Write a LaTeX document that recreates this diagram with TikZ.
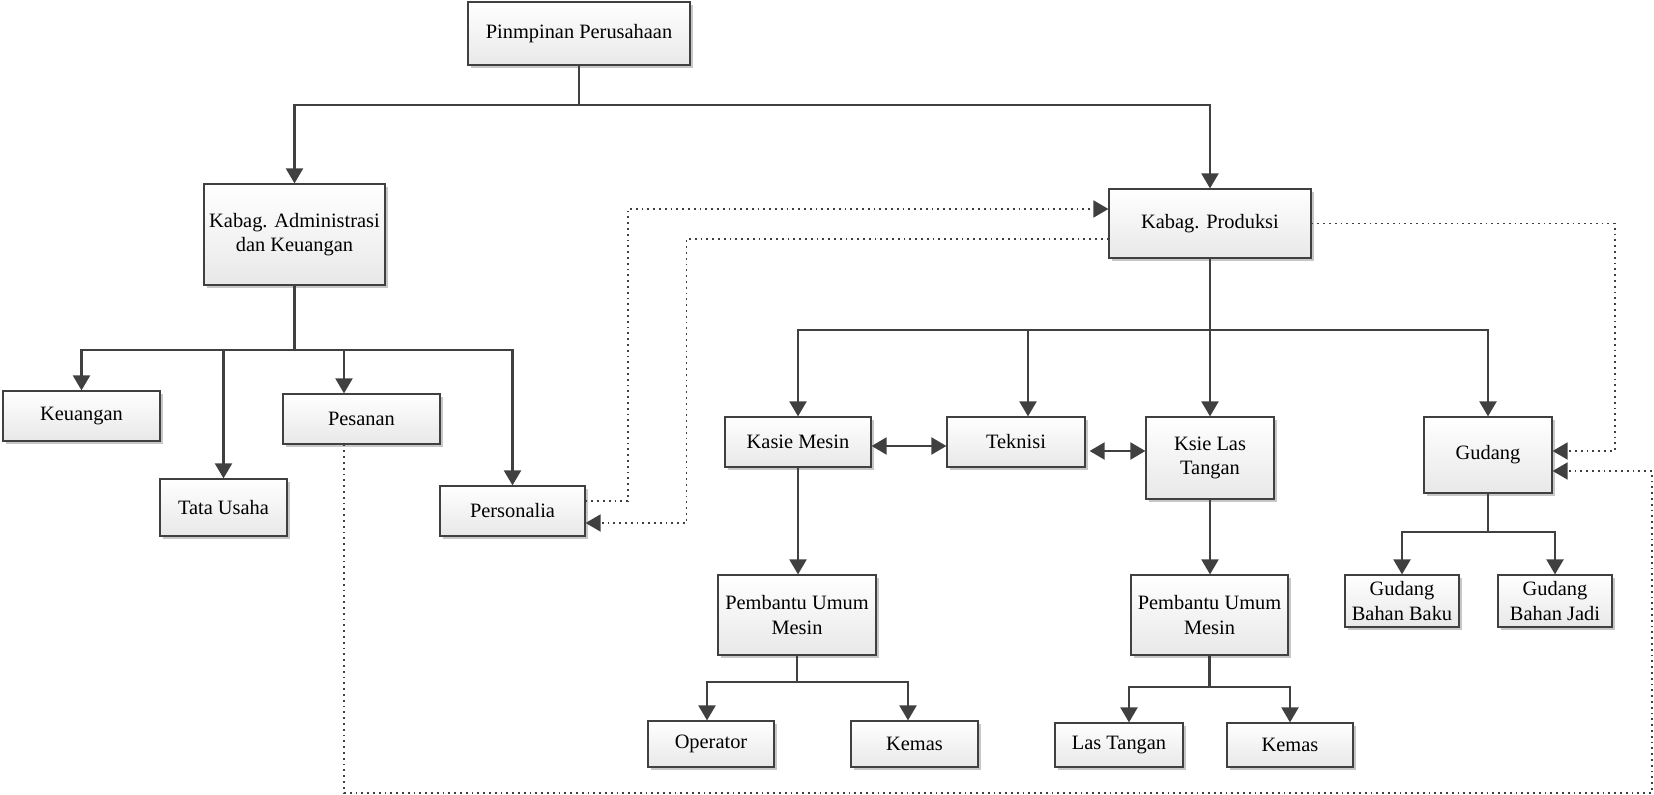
\documentclass[tikz,border=0pt]{standalone}
\usepackage{fontspec}
\setmainfont{Liberation Serif}
\usetikzlibrary{arrows.meta,shadows,calc}
\definecolor{ln}{HTML}{404040}
\tikzset{
  box/.style={draw=ln, line width=0.6pt, top color=white, bottom color=black!9,
    general shadow={fill=black!22, shadow xshift=1.5pt, shadow yshift=-1.5pt},
    font=\fontsize{10.2pt}{12.2pt}\selectfont, align=center, inner sep=1pt},
  arr/.style={draw=ln, line width=1.1pt, -{Triangle[length=7.5pt,width=8.5pt]}},
  darr/.style={draw=ln, line width=1.1pt, {Triangle[length=7.5pt,width=8.5pt]}-{Triangle[length=7.5pt,width=8.5pt]}},
  dotarr/.style={draw=ln, line width=0.9pt, dash pattern=on 0.9pt off 2pt, -{Triangle[length=7.5pt,width=8.5pt]}},
}
\newcommand\bx[7]{\node[box, minimum width=#4*0.5pt, minimum height=#5*0.5pt] (#1) at (#2,#3) {#6};}
\begin{document}
\begin{tikzpicture}[x=0.5pt,y=-0.5pt]
\useasboundingbox (0,0) rectangle (1654,795);
% nodes
\bx{pim}{579}{33.5}{222}{63}{Pinmpinan Perusahaan}{}
\bx{adm}{294.5}{234.5}{181}{101}{Kabag. Administrasi\\dan Keuangan}{}
\bx{prod}{1210}{223.5}{202}{69}{Kabag. Produksi}{}
\bx{keu}{81.5}{416}{157}{50}{Keuangan}{}
\bx{pes}{361.5}{419}{157}{50}{Pesanan}{}
\bx{tata}{223.5}{507.5}{127}{57}{Tata Usaha}{}
\bx{pers}{512.5}{511}{145}{50}{Personalia}{}
\bx{kasie}{798}{442}{146}{50}{Kasie Mesin}{}
\bx{tek}{1016}{442}{138}{50}{Teknisi}{}
\bx{ksie}{1210}{458}{128}{82}{Ksie Las\\Tangan}{}
\bx{gud}{1488}{455}{128}{76}{Gudang}{}
\bx{pumA}{797}{615}{158}{80}{Pembantu Umum\\Mesin}{}
\bx{pumB}{1209.5}{615}{157}{80}{Pembantu Umum\\Mesin}{}
\bx{gbb}{1402}{601}{114}{52}{Gudang\\Bahan Baku}{}
\bx{gbj}{1555}{601}{114}{52}{Gudang\\Bahan Jadi}{}
\bx{op}{711}{744}{126}{46}{Operator}{}
\bx{kemA}{914.5}{744}{127}{46}{Kemas}{}
\bx{las}{1119}{745}{128}{44}{Las Tangan}{}
\bx{kemB}{1290}{745}{126}{44}{Kemas}{}
% bus levels
\coordinate (b0) at (0,105);
\coordinate (b1) at (0,350);
\coordinate (b2) at (0,330);
\coordinate (b3) at (0,682);
\coordinate (b4) at (0,687);
\coordinate (b5) at (0,532);
% top
\draw[arr] (pim.south) -- (pim.south |- b0) -| (adm.north);
\draw[arr] (pim.south) -- (pim.south |- b0) -| (prod.north);
% admin
\coordinate (pesIn) at ([xshift=-8.75pt]pes.north);
\coordinate (pesOut) at ([xshift=-8.75pt]pes.south);
\draw[arr] (adm.south) -- (adm.south |- b1) -| (keu.north);
\draw[arr] (adm.south) -- (adm.south |- b1) -| (tata.north);
\draw[arr] (adm.south) -- (adm.south |- b1) -| (pesIn);
\draw[arr] (adm.south) -- (adm.south |- b1) -| (pers.north);
% produksi
\coordinate (tekIn) at ([xshift=6pt]tek.north);
\draw[arr] (prod.south) -- (prod.south |- b2) -| (kasie.north);
\draw[arr] (prod.south) -- (prod.south |- b2) -| (tekIn);
\draw[arr] (prod.south) -- (prod.south |- b2) -| (ksie.north);
\draw[arr] (prod.south) -- (prod.south |- b2) -| (gud.north);
% lateral
\coordinate (k1) at ([yshift=-2pt]kasie.east);
\draw[darr] (k1) -- (k1 -| tek.west);
\coordinate (t1) at ([xshift=2pt,yshift=-4.5pt]tek.east);
\draw[darr] (t1) -- (t1 -| ksie.west);
% kasie mesin branch
\draw[arr] (kasie.south) -- (kasie.south |- pumA.north);
\coordinate (opIn) at ([xshift=-2pt]op.north);
\coordinate (kemAIn) at ([xshift=-3.25pt]kemA.north);
\draw[arr] (pumA.south) -- (pumA.south |- b3) -| (opIn);
\draw[arr] (pumA.south) -- (pumA.south |- b3) -| (kemAIn);
% ksie las branch
\draw[arr] (ksie.south) -- (ksie.south |- pumB.north);
\coordinate (lasIn) at ([xshift=5pt]las.north);
\draw[arr] (pumB.south) -- (pumB.south |- b4) -| (lasIn);
\draw[arr] (pumB.south) -- (pumB.south |- b4) -| (kemB.north);
% gudang branch
\draw[arr] (gud.south) -- (gud.south |- b5) -| (gbb.north);
\draw[arr] (gud.south) -- (gud.south |- b5) -| (gbj.north);
% dotted connectors
\coordinate (p1) at ([yshift=5pt]pers.east);
\coordinate (q1) at ([yshift=7.25pt]prod.west);
\draw[dotarr] (p1) -- ++(42,0) |- (q1);
\coordinate (q2) at ([yshift=-7.75pt]prod.west);
\coordinate (p2) at ([yshift=-6pt]pers.east);
\draw[dotarr] (q2) -- ++(-422,0) |- (p2);
\coordinate (g1) at ([yshift=2pt]gud.east);
\draw[dotarr] (prod.east) -- ++(303,0) |- (g1);
\coordinate (g2) at ([yshift=-8pt]gud.east);
\draw[dotarr] (pesOut) -- ++(0,348) -- ++(1308,0) |- (g2);
\end{tikzpicture}
\end{document}
